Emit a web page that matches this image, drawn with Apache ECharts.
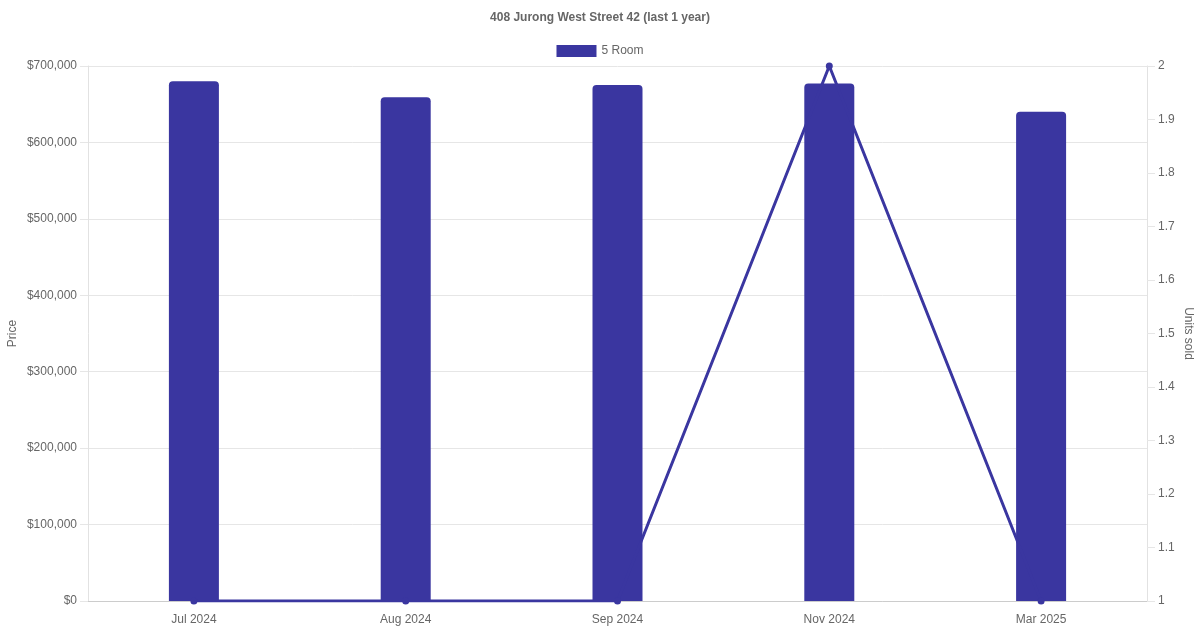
<!DOCTYPE html>
<html>
<head>
<meta charset="utf-8">
<script src="https://cdn.jsdelivr.net/npm/echarts@6/dist/echarts.min.js"></script>
<style>html,body{margin:0;padding:0;background:#fff}#c{width:1200px;height:630px}</style>
</head>
<body>
<div id="c"></div>
<script>
const categories = ['Jul 2024', 'Aug 2024', 'Sep 2024', 'Nov 2024', 'Mar 2025'];
const prices = [680000, 659000, 675000, 677000, 640000];
const unitsSold = [1, 1, 1, 2, 1];
const seriesName = '5 Room';
const titleText = '408 Jurong West Street 42 (last 1 year)';

const color = '#3a36a0';
const font = 'Liberation Sans, Arial, Helvetica, sans-serif';
const chart = echarts.init(document.getElementById('c'));
chart.setOption({
  animation: false,
  textStyle: { fontFamily: font },
  title: {
    text: titleText, left: 'center', top: 7,
    textStyle: { fontSize: 12, fontWeight: 'bold', color: '#666', fontFamily: font }
  },
  legend: {
    data: [seriesName], top: 40, left: 'center',
    itemWidth: 40, itemHeight: 12, itemGap: 10,
    icon: 'rect',
    textStyle: { fontSize: 12, color: '#666', fontFamily: font }
  },
  grid: { left: 88, right: 53, top: 66, bottom: 29, containLabel: false, outerBoundsMode: 'none' },
  xAxis: {
    type: 'category', data: categories,
    axisLine: { lineStyle: { color: '#ccc' } },
    axisTick: { show: false },
    axisLabel: { color: '#666', fontSize: 12, margin: 13, fontFamily: font },
    splitLine: { show: false }
  },
  yAxis: [
    {
      type: 'value', min: 0, max: 700000, interval: 100000,
      name: 'Price', nameLocation: 'middle', nameGap: 69, nameMoveOverlap: false,
      nameTextStyle: { color: '#666', fontSize: 12, fontFamily: font },
      axisLine: { show: true, lineStyle: { color: '#e2e2e2' } },
      axisTick: { show: true, length: 8, lineStyle: { color: '#e6e6e6' } },
      axisLabel: { color: '#666', fontSize: 12, margin: 11, fontFamily: font,
        formatter: v => '$' + v.toLocaleString('en-US') },
      splitLine: { lineStyle: { color: '#e6e6e6' } }
    },
    {
      type: 'value', min: 1, max: 2, interval: 0.1, position: 'right',
      name: 'Units sold', nameLocation: 'middle', nameGap: 35, nameRotate: -90, nameMoveOverlap: false,
      nameTextStyle: { color: '#666', fontSize: 12, fontFamily: font },
      axisLine: { show: true, lineStyle: { color: '#e2e2e2' } },
      axisTick: { show: true, length: 8, lineStyle: { color: '#e6e6e6' } },
      axisLabel: { color: '#666', fontSize: 12, margin: 11, fontFamily: font,
        formatter: v => String(Math.round(v * 10) / 10) },
      splitLine: { show: false }
    }
  ],
  series: [
    {
      name: seriesName, type: 'bar', data: prices, yAxisIndex: 0,
      barWidth: 50,
      itemStyle: { color: color, borderRadius: [4, 4, 0, 0] },
      z: 2
    },
    {
      name: 'Units sold', type: 'line', data: unitsSold, yAxisIndex: 1,
      lineStyle: { color: color, width: 3 },
      itemStyle: { color: color },
      symbol: 'circle', symbolSize: 7, showSymbol: true,
      z: 3
    }
  ]
});
</script>
</body>
</html>
